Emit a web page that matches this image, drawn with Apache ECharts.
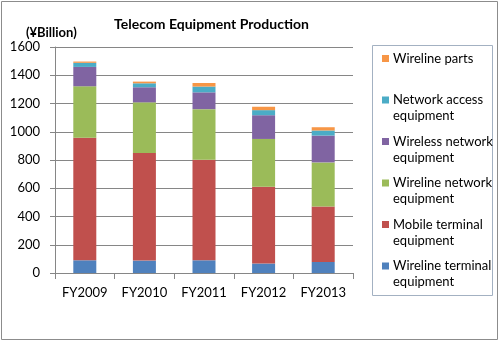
<!DOCTYPE html>
<html>
<head>
<meta charset="utf-8">
<script src="https://cdn.jsdelivr.net/npm/echarts@6/dist/echarts.min.js"></script>
<style>html,body{margin:0;padding:0;background:#fff}#c{width:500px;height:341px}</style>
</head>
<body>
<div id="c"></div>
<script>
var categories = ['FY2009', 'FY2010', 'FY2011', 'FY2012', 'FY2013'];
var wirelineTerminal = [90, 88, 90, 67, 78];
var mobileTerminal = [867, 762, 712, 543, 392];
var wirelineNetwork = [365, 358, 358, 339, 313];
var wirelessNetwork = [137, 107, 119, 168, 190];
var networkAccess = [29, 28, 41, 36, 36];
var wirelineParts = [9, 12, 25, 24, 23];
var yTicks = [0, 200, 400, 600, 800, 1000, 1200, 1400, 1600];

var seriesDefs = [
  {name: 'Wireline terminal equipment', lines: ['Wireline terminal', 'equipment'], data: wirelineTerminal, color: '#4F81BD'},
  {name: 'Mobile terminal equipment', lines: ['Mobile terminal', 'equipment'], data: mobileTerminal, color: '#C0504D'},
  {name: 'Wireline network equipment', lines: ['Wireline network', 'equipment'], data: wirelineNetwork, color: '#9BBB59'},
  {name: 'Wireless network equipment', lines: ['Wireless network', 'equipment'], data: wirelessNetwork, color: '#8064A2'},
  {name: 'Network access equipment', lines: ['Network access', 'equipment'], data: networkAccess, color: '#4BACC6'},
  {name: 'Wireline parts', lines: ['Wireline parts', ' '], data: wirelineParts, color: '#F79646'}
];

var FONT = 'Lato, "Liberation Sans", sans-serif';
var rich = {
  t: {fontSize: 13, lineHeight: 16, color: '#000', fontFamily: FONT},
  g: {width: 4, height: 6},
  sp: {width: 7, height: 6}
};
var idxByName = {};
seriesDefs.forEach(function (s, i) {
  idxByName[s.name] = i;
  rich['sq' + i] = {backgroundColor: s.color, width: 7, height: 7, verticalAlign: 'middle'};
});

var chart = echarts.init(document.getElementById('c'));
chart.setOption({
  animation: false,
  textStyle: {fontFamily: FONT},
  title: [{
    text: 'Telecom Equipment Production',
    left: 109, top: 12,
    textStyle: {fontSize: 14, fontWeight: 'bold', color: '#000', fontFamily: FONT}
  }, {
    text: '(¥Billion)',
    left: 21, top: 21,
    textStyle: {fontSize: 13, fontWeight: 'bold', color: '#000', fontFamily: FONT}
  }],
  graphic: [
    {type: 'rect', shape: {x: 1.5, y: 1.5, width: 496, height: 338}, style: {fill: 'none', stroke: '#8c8c8c', lineWidth: 1}, z: -1},
    {type: 'rect', shape: {x: 372.5, y: 45.5, width: 120, height: 250}, style: {fill: 'none', stroke: '#a3b1c2', lineWidth: 1}, z: -1}
  ],
  grid: {left: 55, right: 147, top: 47, bottom: 68},
  legend: {
    orient: 'vertical',
    left: 372, top: 47,
    padding: 5,
    icon: 'none',
    itemWidth: 0, itemHeight: 8,
    itemGap: 12.5,
    selectedMode: false,
    data: seriesDefs.map(function (s) { return s.name; }).reverse(),
    formatter: function (name) {
      var i = idxByName[name];
      var l = seriesDefs[i].lines;
      return '{sq' + i + '|}{g|}{t|' + l[0] + '}\n{sp|}{g|}{t|' + l[1] + '}';
    },
    textStyle: {rich: rich}
  },
  xAxis: {
    type: 'category',
    data: categories,
    axisLine: {lineStyle: {color: '#868686'}},
    axisTick: {show: true, length: 6, alignWithLabel: false, lineStyle: {color: '#868686'}},
    axisLabel: {fontSize: 13, color: '#000', margin: 13, fontFamily: FONT}
  },
  yAxis: {
    type: 'value',
    min: yTicks[0], max: yTicks[yTicks.length - 1], interval: 200,
    axisLine: {show: true, lineStyle: {color: '#868686'}},
    axisTick: {show: true, length: 5, lineStyle: {color: '#868686'}},
    axisLabel: {fontSize: 13, color: '#000', margin: 15, fontFamily: FONT,
      formatter: function (v) { return String(v); }},
    splitLine: {lineStyle: {color: '#868686'}}
  },
  series: seriesDefs.map(function (s) {
    return {
      name: s.name, type: 'bar', stack: 'total', data: s.data,
      barWidth: 23,
      itemStyle: {color: s.color}
    };
  })
});
</script>
</body>
</html>
